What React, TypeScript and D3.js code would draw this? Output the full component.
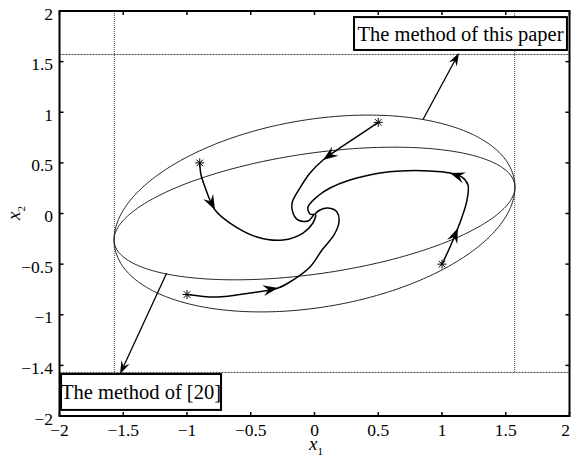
import React, { useEffect, useRef } from 'react';
import * as d3 from 'd3';

const W = 571;
const H = 457;

const xTicks = [-2, -1.5, -1, -0.5, 0, 0.5, 1, 1.5, 2];
const xTickLabels = ['-2', '-1.5', '-1', '-0.5', '0', '0.5', '1', '1.5', '2'];
const yTicks = [2, 1.5, 1, 0.5, 0, -0.5, -1, -1.5, -2];
const yTickLabels = ['2', '1.5', '1', '0.5', '0', '-0.5', '-1', '-1.4', '-2'];

// state constraint |x1|, |x2| <= bound
const bound = 1.57;

// estimated regions: [max |x1|, max |x2|, x2 where the ellipse touches x1 = max]
const regionPaper = [1.572, 0.972, 0.26];
const regionRef20 = [1.572, 0.655, 0.26];

const traj1: [number, number][] = [
  [0.5, 0.9], [0.318, 0.746], [0.176, 0.627], [0.067, 0.528], [-0.035, 0.4],
  [-0.114, 0.252], [-0.176, 0.104], [-0.169, 0.005], [-0.129, -0.064], [-0.051, -0.074],
  [-0.004, -0.005],
];
const traj2: [number, number][] = [
  [-0.9, 0.5], [-0.89, 0.38], [-0.859, 0.262], [-0.82, 0.133], [-0.78, 0.035],
  [-0.663, -0.094], [-0.451, -0.232], [-0.247, -0.262], [-0.09, -0.193], [-0.012, -0.094],
  [0.012, -0.015],
];
const traj3: [number, number][] = [
  [-1, -0.8], [-0.765, -0.825], [-0.506, -0.785], [-0.286, -0.736], [-0.169, -0.657],
  [-0.035, -0.528], [0.059, -0.36], [0.153, -0.212], [0.192, -0.084], [0.176, 0.015],
  [0.106, 0.054], [0.043, 0.035], [0.004, -0.005],
];
const traj4: [number, number][] = [
  [1, -0.5], [1.063, -0.331], [1.125, -0.143], [1.157, -0.035], [1.196, 0.133],
  [1.204, 0.281], [1.157, 0.36], [1.063, 0.4], [0.906, 0.42], [0.671, 0.42],
  [0.514, 0.4], [0.278, 0.331], [0.122, 0.252], [0.027, 0.173], [-0.051, 0.064],
  [-0.035, -0.005], [0.012, -0.005],
];
const trajectories = [traj1, traj2, traj3, traj4];

// arrowheads on trajectories: [trajectory, point index]
const trajArrows: [number, number][] = [[0, 3], [1, 4], [2, 3], [3, 2], [3, 7]];

// annotations: arrow start, arrow tip, box corners, label
const notes = [
  { from: [0.851, 0.929], to: [1.133, 1.585], box: [0.31, 1.94, 1.98, 1.615], label: 'The method of this paper' },
  { from: [-1.16, -0.59], to: [-1.525, -1.585], box: [-1.988, -1.585, -0.733, -1.94], label: 'The method of [20]' },
];

const FONT = "'Liberation Serif', 'Times New Roman', serif";

const App = () => {
  const ref = useRef<SVGSVGElement>(null);

  useEffect(() => {
    const svg = d3.select(ref.current);
    svg.selectAll('*').remove();

    const x = d3.scaleLinear().domain([-2, 2]).range([59.5, 569.5]);
    const y = d3.scaleLinear().domain([-2, 2]).range([416, 11]);

    svg.append('rect').attr('width', W).attr('height', H).attr('fill', '#fff');

    // constraint lines
    const g = svg.append('g');
    [-bound, bound].forEach(v => {
      g.append('line')
        .attr('x1', x(v)).attr('x2', x(v))
        .attr('y1', y(2)).attr('y2', y(-bound))
        .attr('stroke', '#444').attr('stroke-width', 1).attr('stroke-dasharray', '1,1');
      g.append('line')
        .attr('x1', x(-2)).attr('x2', x(2))
        .attr('y1', y(v)).attr('y2', y(v))
        .attr('stroke', '#444').attr('stroke-width', 1).attr('stroke-dasharray', '2,1');
    });

    // ellipses
    const ellipse = d3.line<number>()
      .x(t => x(regionCur[0] * Math.cos(t)))
      .y(t => y(regionCur[2] * Math.cos(t) + Math.sqrt(regionCur[1] ** 2 - regionCur[2] ** 2) * Math.sin(t)))
      .curve(d3.curveLinearClosed);
    let regionCur = regionPaper;
    const ts = d3.range(0, 2 * Math.PI, Math.PI / 180);
    [regionPaper, regionRef20].forEach(r => {
      regionCur = r;
      g.append('path').attr('d', ellipse(ts)).attr('fill', 'none')
        .attr('stroke', '#222').attr('stroke-width', 1);
    });

    const open = d3.line<[number, number]>()
      .x(d => x(d[0])).y(d => y(d[1]))
      .curve(d3.curveCatmullRom.alpha(0.5));
    trajectories.forEach(t => {
      g.append('path').attr('d', open(t)).attr('fill', 'none')
        .attr('stroke', '#000').attr('stroke-width', 1.5);
    });

    const head = (px: number, py: number, ang: number, len: number, wid: number) => {
      g.append('path')
        .attr('d', `M0,0L${-len},${-wid / 2}L${-len * 0.65},0L${-len},${wid / 2}Z`)
        .attr('transform', `translate(${px},${py}) rotate(${(ang * 180) / Math.PI})`)
        .attr('fill', '#000');
    };

    trajArrows.forEach(([ti, pi]) => {
      const t = trajectories[ti];
      const px = x(t[pi][0]), py = y(t[pi][1]);
      const ang = Math.atan2(py - y(t[pi - 1][1]), px - x(t[pi - 1][0]));
      head(px, py, ang, 15, 11);
    });

    // start points
    trajectories.forEach(t => {
      const px = x(t[0][0]), py = y(t[0][1]);
      const r = 4.5, d = r * 0.72;
      g.append('path')
        .attr('d', `M${px - r},${py}H${px + r}M${px},${py - r}V${py + r}M${px - d},${py - d}L${px + d},${py + d}M${px - d},${py + d}L${px + d},${py - d}`)
        .attr('stroke', '#000').attr('stroke-width', 1);
    });

    // annotations
    notes.forEach(n => {
      const x1 = x(n.from[0]), y1 = y(n.from[1]);
      const x2 = x(n.to[0]), y2 = y(n.to[1]);
      const ang = Math.atan2(y2 - y1, x2 - x1);
      g.append('line')
        .attr('x1', x1).attr('y1', y1)
        .attr('x2', x2 - Math.cos(ang) * 8).attr('y2', y2 - Math.sin(ang) * 8)
        .attr('stroke', '#000').attr('stroke-width', 1.3);
      head(x2, y2, ang, 13, 9);
      const bx = x(n.box[0]), by = y(n.box[1]);
      const bw = x(n.box[2]) - bx, bh = y(n.box[3]) - by;
      g.append('rect').attr('x', bx).attr('y', by).attr('width', bw).attr('height', bh)
        .attr('fill', '#fff').attr('stroke', '#000').attr('stroke-width', 2);
      g.append('text')
        .attr('x', bx + bw / 2).attr('y', by + bh / 2 + 7)
        .attr('text-anchor', 'middle')
        .attr('font-family', FONT).attr('font-size', 20.5)
        .text(n.label);
    });

    // axes box
    const ax = svg.append('g');
    ax.append('rect')
      .attr('x', x(-2)).attr('y', y(2))
      .attr('width', x(2) - x(-2)).attr('height', y(-2) - y(2))
      .attr('fill', 'none').attr('stroke', '#000').attr('stroke-width', 2);

    xTicks.forEach((v, i) => {
      ax.append('line').attr('x1', x(v)).attr('x2', x(v)).attr('y1', y(-2)).attr('y2', y(-2) - 4)
        .attr('stroke', '#000').attr('stroke-width', 1.5);
      ax.append('line').attr('x1', x(v)).attr('x2', x(v)).attr('y1', y(2)).attr('y2', y(2) + 4)
        .attr('stroke', '#000').attr('stroke-width', 1.5);
      const last = i === xTicks.length - 1;
      ax.append('text')
        .attr('x', last ? W - 1 : x(v)).attr('y', 436)
        .attr('text-anchor', last ? 'end' : 'middle')
        .attr('font-family', FONT).attr('font-size', 17.5)
        .text(xTickLabels[i].replace('-', '\u2212'));
    });

    yTicks.forEach((v, i) => {
      ax.append('line').attr('x1', x(-2)).attr('x2', x(-2) + 4).attr('y1', y(v)).attr('y2', y(v))
        .attr('stroke', '#000').attr('stroke-width', 1.5);
      ax.append('line').attr('x1', x(2)).attr('x2', x(2) - 4).attr('y1', y(v)).attr('y2', y(v))
        .attr('stroke', '#000').attr('stroke-width', 1.5);
      ax.append('text')
        .attr('x', 53).attr('y', y(v) + 8.5)
        .attr('text-anchor', 'end')
        .attr('font-family', FONT).attr('font-size', 17.5)
        .text(yTickLabels[i].replace('-', '\u2212'));
    });

    const xl = ax.append('text')
      .attr('x', 309).attr('y', 450)
      .attr('font-family', FONT).attr('font-size', 19);
    xl.append('tspan').attr('font-style', 'italic').text('x');
    xl.append('tspan').attr('dy', 5).attr('font-size', 11).text('1');

    const yl = ax.append('text')
      .attr('transform', 'translate(20,220) rotate(-90)')
      .attr('font-family', FONT).attr('font-size', 19);
    yl.append('tspan').attr('font-style', 'italic').text('x');
    yl.append('tspan').attr('dy', 5).attr('font-size', 11).text('2');
  }, []);

  return (
    <svg
      ref={ref}
      width={W}
      height={H}
      style={{ position: 'absolute', left: 0, top: 0, display: 'block' }}
    />
  );
};

export default App;
